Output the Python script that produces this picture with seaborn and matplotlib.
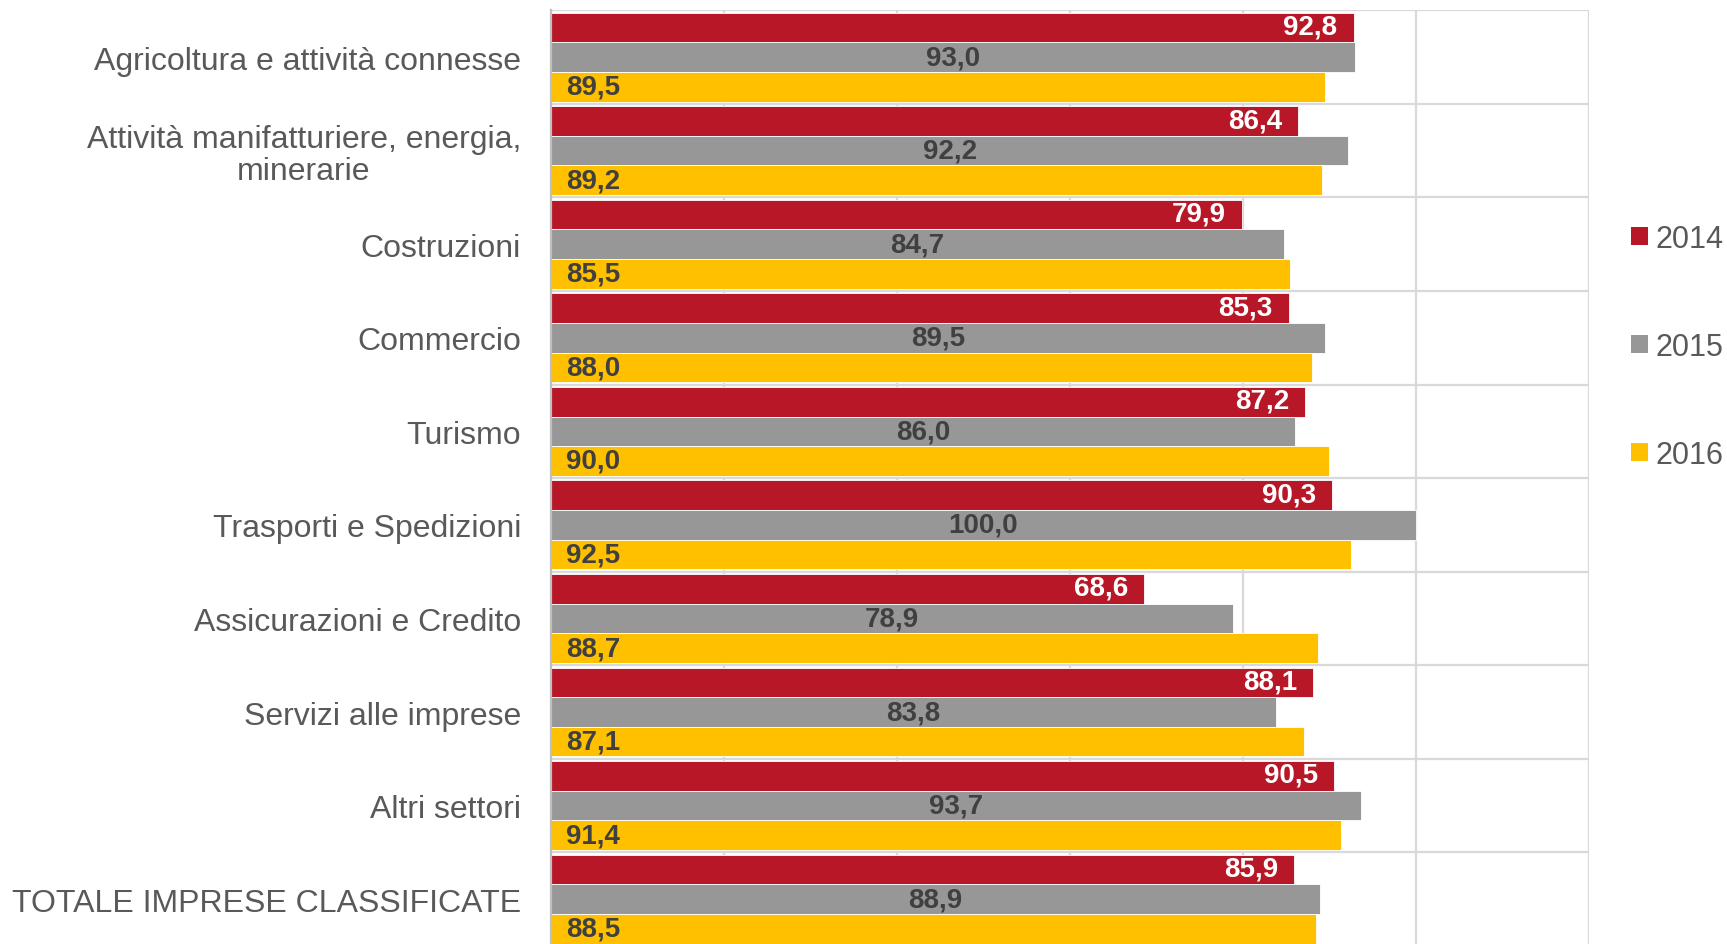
import numpy as np
import pandas as pd
import matplotlib
matplotlib.use("Agg")
import matplotlib.pyplot as plt
from matplotlib.patches import Patch
from matplotlib.ticker import FixedLocator
import seaborn as sns

settori = [
    "Agricoltura e attività connesse",
    "Attività manifatturiere, energia,\nminerarie",
    "Costruzioni",
    "Commercio",
    "Turismo",
    "Trasporti e Spedizioni",
    "Assicurazioni e Credito",
    "Servizi alle imprese",
    "Altri settori",
    "TOTALE IMPRESE CLASSIFICATE",
]
anni = ["2014", "2015", "2016"]
val_2014 = [92.8, 86.4, 79.9, 85.3, 87.2, 90.3, 68.6, 88.1, 90.5, 85.9]
val_2015 = [93.0, 92.2, 84.7, 89.5, 86.0, 100.0, 78.9, 83.8, 93.7, 88.9]
val_2016 = [89.5, 89.2, 85.5, 88.0, 90.0, 92.5, 88.7, 87.1, 91.4, 88.5]

colori = {"2014": "#B71727", "2015": "#979797", "2016": "#FFC000"}

df = pd.DataFrame({
    "settore": settori * 3,
    "anno": [a for a in anni for _ in settori],
    "valore": val_2014 + val_2015 + val_2016,
})

sns.set_theme(style="white")
plt.rcParams["font.family"] = ["Liberation Sans", "DejaVu Sans"]

fig = plt.figure(figsize=(17.27, 9.45), dpi=100)
ax = fig.add_axes([0.319, -0.002, 0.601, 0.990])

sns.barplot(data=df, y="settore", x="valore", hue="anno", order=settori,
            hue_order=anni, palette=colori, orient="h", width=0.95,
            saturation=1, edgecolor="white", linewidth=0.6, legend=False, ax=ax)

ax.set_xlim(0, 120)
ax.set_ylim(len(settori) - 0.5, -0.5)
ax.set_xticks(np.arange(0, 121, 20))
ax.set_xticklabels([])
ax.yaxis.set_minor_locator(FixedLocator(np.arange(-0.5, len(settori), 1)))
ax.grid(True, axis="x", which="major", color="#D9D9D9", lw=1.6)
ax.grid(True, axis="y", which="minor", color="#D9D9D9", lw=1.6)
ax.grid(False, axis="y", which="major")
ax.set_axisbelow(True)
ax.tick_params(axis="both", which="both", length=0)
ax.tick_params(axis="y", pad=21.5, labelsize=23, labelcolor="#595959")
for lbl in ax.get_yticklabels():
    lbl.set_multialignment("center")
    lbl.set_linespacing(1.1)
ax.set_xlabel("")
ax.set_ylabel("")
for s in ["top", "right", "bottom"]:
    ax.spines[s].set_visible(False)
ax.spines["left"].set_color("#BFBFBF")
ax.spines["left"].set_linewidth(1.6)


def fmt(v):
    return f"{v:.1f}".replace(".", ",")


lab_kw = dict(fontsize=20, fontweight="bold", va="center",
              textcoords="offset pixels")
for anno, cont in zip(anni, ax.containers):
    for bar in cont:
        w = bar.get_width()
        yc = bar.get_y() + bar.get_height() / 2
        if anno == "2014":
            ax.annotate(fmt(w), (w, yc), xytext=(-16, 1), ha="right",
                        color="white", **lab_kw)
        elif anno == "2015":
            ax.annotate(fmt(w), (w / 2, yc), xytext=(0, 0), ha="center",
                        color="#404040", **lab_kw)
        else:
            ax.annotate(fmt(w), (0, yc), xytext=(15, 0), ha="left",
                        color="#404040", **lab_kw)

handles = [Patch(facecolor=colori[a], edgecolor="none", label=a) for a in anni]
fig.legend(handles=handles, loc="center left", bbox_to_anchor=(0.9444, 0.632),
           frameon=False, fontsize=22, labelcolor="#595959",
           handlelength=0.55, handleheight=0.55, handletextpad=0.25,
           labelspacing=2.55, borderpad=0, borderaxespad=0)

fig.savefig("out.png", dpi=100)
